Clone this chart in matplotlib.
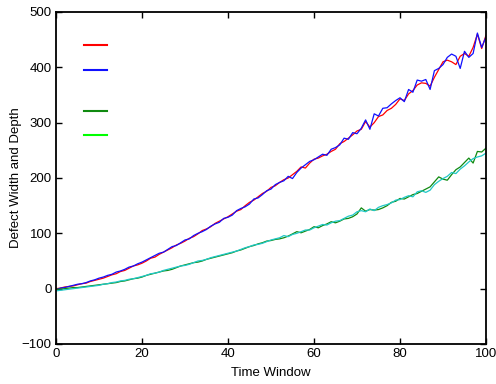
import matplotlib
matplotlib.use("Agg")
import matplotlib.pyplot as plt
from matplotlib.lines import Line2D
import numpy as np

plt.rcParams['font.family'] = ['Liberation Sans', 'DejaVu Sans']

time_window = list(range(0, 101))

width_est = [0, 1, 3, 4, 5, 7, 9, 10, 13, 15,
             17, 19, 22, 25, 27, 31, 33, 37, 41, 43,
             46, 50, 55, 57, 62, 66, 70, 74, 79, 82,
             86, 91, 94, 99, 105, 108, 112, 118, 122, 126,
             130, 135, 140, 143, 150, 156, 160, 166, 172, 176,
             183, 186, 192, 197, 200, 206, 212, 220, 218, 227,
             234, 236, 240, 243, 248, 252, 262, 266, 272, 278,
             285, 288, 302, 292, 300, 311, 314, 322, 326, 333,
             343, 340, 352, 358, 368, 372, 371, 366, 382, 396,
             410, 413, 410, 405, 420, 425, 420, 436, 460, 434,
             458]

width_true = [-2, 1, 2, 4, 6, 8, 9, 11, 14, 16,
              19, 21, 24, 26, 30, 32, 35, 39, 41, 45,
              48, 52, 56, 60, 64, 66, 71, 76, 78, 83,
              88, 90, 96, 100, 103, 107, 113, 117, 120, 127,
              129, 133, 141, 145, 148, 153, 162, 164, 170, 177,
              180, 188, 192, 195, 203, 199, 210, 218, 224, 230,
              233, 238, 243, 241, 252, 255, 260, 272, 270, 282,
              280, 290, 305, 288, 316, 312, 326, 327, 334, 340,
              345, 338, 360, 355, 377, 375, 378, 360, 394, 398,
              405, 418, 424, 420, 398, 429, 418, 425, 462, 436,
              455]

depth_est = [-1, -1, 0, 1, 2, 2, 3, 4, 5, 6,
             7, 8, 9, 10, 11, 13, 14, 16, 18, 19,
             21, 24, 26, 28, 30, 32, 33, 35, 38, 41,
             43, 45, 47, 48, 50, 53, 55, 57, 59, 61,
             63, 65, 68, 70, 73, 76, 78, 81, 83, 86,
             87, 89, 90, 92, 95, 99, 103, 101, 104, 107,
             112, 110, 114, 117, 121, 119, 122, 126, 127, 130,
             135, 146, 140, 143, 142, 143, 146, 150, 156, 158,
             163, 162, 166, 170, 172, 176, 180, 184, 193, 202,
             198, 196, 206, 215, 220, 228, 236, 227, 248, 247,
             254]

depth_true = [-4, -3, -2, -1, 0, 1, 2, 3, 4, 5,
              6, 8, 9, 11, 12, 14, 15, 17, 18, 20,
              22, 24, 27, 28, 30, 33, 35, 37, 39, 41,
              42, 44, 47, 50, 51, 53, 56, 58, 60, 62,
              64, 66, 68, 71, 74, 76, 79, 80, 82, 85,
              88, 90, 92, 96, 94, 98, 100, 103, 106, 106,
              110, 113, 116, 115, 119, 122, 123, 127, 131, 133,
              139, 141, 139, 144, 141, 147, 150, 152, 155, 160,
              161, 165, 168, 166, 175, 177, 174, 178, 188, 194,
              199, 203, 210, 208, 216, 222, 229, 235, 238, 240,
              245]

fig = plt.figure(figsize=(4.96, 3.84), dpi=100)
ax = fig.add_axes([56/496, 1-344/384, 430/496, 332/384])

lw = 0.9
ax.plot(time_window, width_est, color='#ff0000', lw=lw)
ax.plot(time_window, width_true, color='#1010ff', lw=lw)
ax.plot(time_window, depth_est, color='#108a10', lw=lw)
ax.plot(time_window, depth_true, color='#20c8c8', lw=lw)

ax.set_xlim(0, 100)
ax.set_ylim(-100, 500)
ax.set_xticks([0, 20, 40, 60, 80, 100])
ax.set_yticks([-100, 0, 100, 200, 300, 400, 500])
ax.tick_params(direction='in', length=4, width=1, top=True, right=True,
               labelsize=9.5, pad=3)
for s in ax.spines.values():
    s.set_linewidth(1.3)
ax.set_xlabel('Time Window', fontsize=9.5, labelpad=5)
ax.set_ylabel('Defect Width and Depth', fontsize=9.5, labelpad=0)

h1 = [Line2D([], [], color='#ff0000', lw=1.5), Line2D([], [], color='#1010ff', lw=1.5)]
h2 = [Line2D([], [], color='#108a10', lw=1.5), Line2D([], [], color='#00ff00', lw=1.5)]
leg1 = ax.legend(h1, [' ', ' '], loc='upper left', bbox_to_anchor=(0.066, 0.916),
                 frameon=False, handlelength=1.8, labelspacing=1.06, fontsize=9,
                 borderaxespad=0, borderpad=0)
ax.add_artist(leg1)
ax.legend(h2, [' ', ' '], loc='upper left', bbox_to_anchor=(0.066, 0.717),
          frameon=False, handlelength=1.8, labelspacing=1.0, fontsize=9,
          borderaxespad=0, borderpad=0)

fig.savefig('out.png', dpi=100)
